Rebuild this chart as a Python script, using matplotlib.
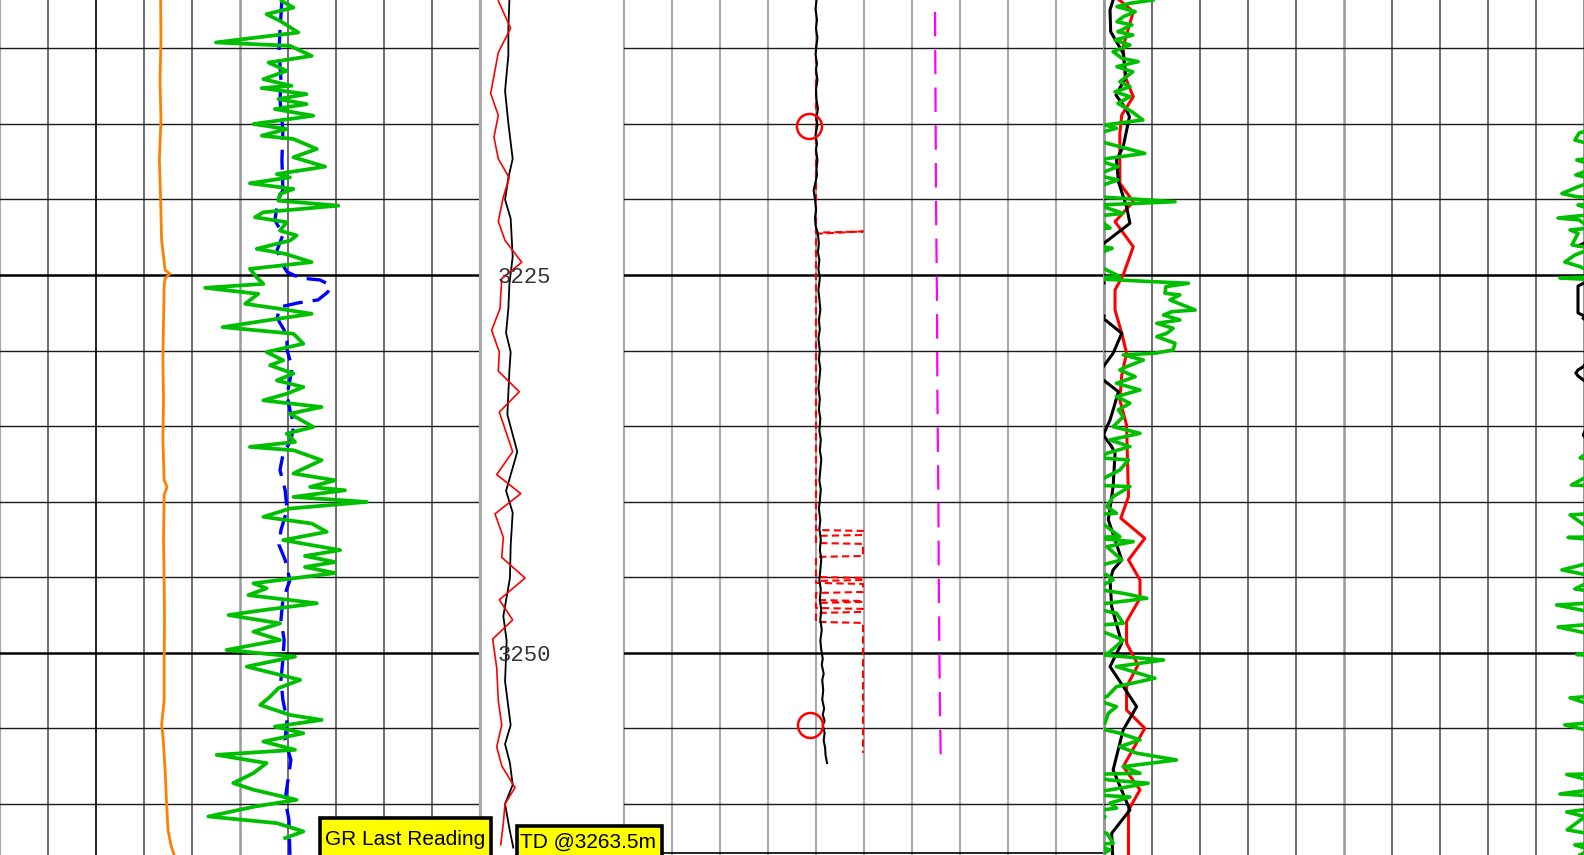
import numpy as np
import matplotlib.pyplot as plt
import matplotlib.transforms as mtransforms
from matplotlib.patches import Rectangle

W, H = 1584, 855
TOP, BOTTOM = 3206.8, 3263.39

# Track 1: gamma ray (API), calliper-like orange trace and blue dashed trace
gr_depth = [3206.86, 3207.30, 3207.74, 3208.18, 3208.95, 3209.61, 3209.83, 3210.50, 3210.94, 3211.49,
            3212.04, 3212.48, 3212.63, 3213.03, 3213.36, 3213.69, 3214.02, 3214.46, 3215.01, 3215.34,
            3215.78, 3216.00, 3216.66, 3217.21, 3217.83, 3218.32, 3218.54, 3218.93, 3219.31, 3219.64,
            3220.08, 3220.41, 3220.85, 3221.18, 3221.51, 3222.06, 3222.39, 3222.72, 3223.27, 3223.60,
            3224.15, 3224.60, 3225.15, 3225.59, 3225.85, 3226.25, 3226.91, 3227.24, 3227.57, 3228.01,
            3228.45, 3228.89, 3229.55, 3230.10, 3230.65, 3230.98, 3231.53, 3231.98, 3232.42, 3232.86,
            3233.30, 3233.74, 3234.18, 3235.06, 3235.50, 3236.05, 3236.38, 3236.60, 3237.26, 3237.92,
            3238.14, 3238.59, 3239.03, 3239.25, 3239.69, 3240.02, 3240.46, 3241.01, 3241.45, 3242.00,
            3242.55, 3243.21, 3243.60, 3244.00, 3244.33, 3244.73, 3245.41, 3245.74, 3246.19, 3246.73,
            3247.18, 3247.51, 3248.06, 3248.61, 3249.16, 3249.82, 3250.26, 3250.92, 3251.47, 3251.80,
            3252.35, 3252.91, 3253.46, 3254.12, 3254.45, 3254.89, 3255.33, 3255.88, 3256.43, 3256.76,
            3257.31, 3257.97, 3258.63, 3259.07, 3259.74, 3260.18, 3260.84, 3261.28, 3261.83, 3262.27]
gr_api = [88.0, 91.7, 83.3, 87.5, 93.2, 67.5, 90.6, 97.4, 83.9, 89.6,
          82.3, 91.1, 81.8, 95.8, 87.0, 95.8, 85.9, 97.9, 79.2, 89.6,
          81.8, 91.7, 99.0, 91.7, 101.6, 86.5, 90.6, 78.1, 91.7, 87.5,
          87.0, 105.7, 82.3, 79.7, 89.6, 87.5, 92.7, 90.6, 80.2, 89.1,
          97.4, 78.1, 80.2, 82.3, 64.1, 80.7, 76.6, 87.5, 97.4, 83.3,
          69.6, 91.7, 94.8, 83.3, 88.5, 84.4, 91.7, 86.5, 94.8, 89.6,
          82.3, 100.5, 90.6, 97.9, 89.6, 92.2, 78.1, 91.7, 100.5, 93.8,
          91.7, 104.7, 96.9, 107.8, 91.7, 114.6, 90.6, 82.3, 97.4, 102.1,
          88.5, 106.3, 95.3, 104.7, 95.3, 104.7, 79.2, 83.3, 77.6, 99.0,
          82.3, 71.4, 87.5, 79.2, 87.5, 70.8, 92.2, 77.1, 87.5, 93.8,
          87.0, 84.4, 81.3, 90.6, 100.5, 85.9, 94.8, 82.3, 92.2, 67.7,
          83.3, 79.2, 72.9, 79.2, 92.7, 79.7, 65.1, 86.5, 94.8, 89.1]

orange_depth = [3206.80, 3209.45, 3212.09, 3214.74, 3217.39, 3220.04, 3222.68, 3224.67, 3224.93, 3225.20,
                3225.66, 3227.98, 3230.63, 3233.27, 3235.92, 3238.57, 3239.03, 3239.56, 3242.54, 3245.19,
                3247.83, 3250.48, 3253.13, 3254.78, 3255.44, 3257.76, 3259.74, 3261.73, 3262.72, 3263.38]
orange_val = [50.2, 50.3, 50.0, 50.3, 49.8, 50.2, 50.5, 51.6, 53.1, 51.6,
              51.3, 51.1, 50.9, 51.1, 50.9, 51.3, 52.2, 51.3, 51.1, 51.3,
              51.4, 51.3, 51.3, 50.5, 50.9, 51.6, 52.0, 52.5, 53.4, 54.4]

blue_depth = [3206.80, 3208.79, 3210.11, 3212.09, 3213.42, 3215.40, 3217.39, 3219.37, 3220.04, 3221.36,
              3222.35, 3223.35, 3224.14, 3224.80, 3225.20, 3225.33, 3225.66, 3226.12, 3226.65, 3226.85,
              3227.12, 3227.85, 3228.97, 3229.96, 3231.15, 3231.95, 3232.94, 3233.93, 3234.93, 3235.92,
              3236.91, 3237.91, 3239.23, 3240.55, 3241.88, 3242.87, 3243.86, 3245.19, 3246.51, 3247.83,
              3249.16, 3250.48, 3251.80, 3253.13, 3254.45, 3255.77, 3257.10, 3258.42, 3259.74, 3261.07,
              3263.38]
blue_val = [88.1, 87.5, 87.2, 87.8, 87.5, 88.4, 88.1, 88.4, 86.9, 85.9,
            88.4, 86.6, 87.8, 89.7, 93.8, 100.0, 103.1, 102.5, 99.4, 93.1,
            87.5, 86.6, 89.7, 89.7, 91.3, 90.6, 89.7, 90.6, 91.9, 90.9,
            88.4, 87.5, 89.1, 89.7, 87.8, 87.2, 89.1, 90.6, 88.4, 87.8,
            88.8, 88.4, 87.8, 88.4, 89.7, 89.1, 90.9, 90.0, 89.1, 90.3,
            90.6]

# Depth track curves
dred_depth = [3206.86, 3208.66, 3210.28, 3212.99, 3214.43, 3215.87, 3217.31, 3218.57, 3219.83, 3221.45,
              3222.72, 3224.16, 3225.24, 3227.22, 3228.66, 3230.10, 3231.36, 3232.73, 3234.07, 3236.70,
              3238.21, 3239.47, 3240.81, 3242.36, 3243.69, 3245.06, 3246.50, 3247.83, 3249.10, 3251.00,
              3253.17, 3254.79, 3256.23, 3257.49, 3258.93, 3260.01, 3261.27, 3262.72]
dred_val = [12.7, 21.3, 12.7, 7.4, 12.7, 9.7, 12.7, 20.3, 16.2, 12.7,
            17.4, 29.0, 15.1, 13.9, 8.1, 13.4, 12.7, 27.3, 13.4, 22.7,
            11.6, 28.3, 10.4, 16.2, 15.1, 31.3, 13.4, 22.7, 8.8, 11.6,
            12.7, 15.1, 11.6, 15.1, 24.3, 17.4, 16.2, 14.4]
dblk_depth = [3206.86, 3208.66, 3210.46, 3212.81, 3214.97, 3217.31, 3218.57, 3220.01, 3221.27, 3223.80,
              3225.60, 3227.22, 3228.84, 3230.10, 3231.36, 3234.25, 3236.70, 3239.29, 3240.73, 3242.90,
              3245.06, 3247.58, 3249.20, 3251.90, 3254.79, 3256.05, 3257.31, 3258.75, 3260.01, 3261.63,
              3262.90]
dblk_val = [20.4, 19.7, 19.7, 17.4, 19.7, 22.7, 19.7, 17.4, 21.3, 22.7,
            20.4, 19.7, 18.1, 21.3, 20.4, 19.0, 25.9, 18.1, 22.7, 21.3,
            20.8, 16.2, 18.5, 17.4, 21.3, 17.4, 20.8, 22.7, 17.4, 20.4,
            23.1]
depth_labels = [3225, 3250]

# Track 2
bk2_depth = [3206.8, 3207.4, 3208.1, 3208.7, 3209.3, 3209.8, 3210.4, 3211.0, 3211.4, 3212.1,
             3212.7, 3213.4, 3214.0, 3214.6, 3215.1, 3215.7, 3216.3, 3216.7, 3217.4, 3218.0,
             3218.4, 3219.0, 3219.4, 3219.6, 3220.0, 3220.7, 3221.2, 3221.7, 3222.3, 3222.9,
             3223.5, 3224.0, 3224.6, 3225.2, 3226.0, 3226.6, 3227.3, 3228.0, 3228.6, 3229.2,
             3230.0, 3230.6, 3231.2, 3231.9, 3232.5, 3233.2, 3233.9, 3234.5, 3235.3, 3235.9,
             3236.6, 3237.2, 3237.9, 3238.6, 3239.2, 3239.9, 3240.5, 3241.2, 3241.8, 3242.5,
             3243.2, 3243.8, 3244.5, 3245.2, 3245.8, 3246.5, 3247.2, 3247.8, 3248.5, 3249.2,
             3249.8, 3250.4, 3250.8, 3251.4, 3251.8, 3252.5, 3253.1, 3253.7, 3254.1, 3254.5,
             3254.8, 3255.3, 3255.8, 3256.3, 3256.8, 3257.3]
bk2_val = [40.1, 39.9, 40.2, 40.0, 40.3, 40.1, 39.9, 40.2, 40.0, 40.3,
           40.0, 40.1, 40.4, 40.1, 40.3, 39.9, 40.2, 40.0, 40.3, 40.1,
           40.2, 39.8, 39.5, 39.6, 39.8, 40.0, 39.8, 39.9, 40.4, 40.6,
           40.4, 40.7, 40.5, 40.8, 40.5, 40.7, 40.9, 40.6, 40.8, 40.5,
           40.8, 40.6, 40.9, 40.7, 40.5, 40.8, 40.6, 40.9, 40.7, 41.0,
           40.8, 41.1, 40.9, 40.7, 41.0, 40.8, 40.6, 40.9, 40.7, 41.0,
           40.8, 41.1, 40.9, 40.7, 41.0, 40.8, 41.1, 40.9, 41.2, 40.9,
           41.1, 41.4, 41.2, 41.6, 41.3, 41.5, 41.3, 41.7, 41.4, 41.8,
           41.4, 41.8, 41.6, 41.9, 42.0, 42.3]

rd2_depth = [3209.78, 3222.20, 3222.12, 3222.27, 3241.88, 3241.94, 3242.21, 3242.27, 3242.74, 3242.80,
             3243.60, 3243.66, 3244.99, 3245.05, 3245.19, 3245.25, 3245.38, 3245.45, 3245.98, 3246.05,
             3246.51, 3246.58, 3246.64, 3246.71, 3247.04, 3247.10, 3247.30, 3247.37, 3247.96, 3248.03,
             3256.63]
rd2_val = [40.0, 40.0, 49.8, 40.0, 40.0, 49.8, 49.8, 40.0, 40.0, 49.8,
           49.8, 40.0, 40.0, 49.8, 49.8, 40.0, 40.0, 49.8, 49.8, 40.0,
           40.0, 49.8, 49.8, 40.0, 40.0, 49.8, 49.8, 40.0, 40.0, 49.8,
           49.8]

mag_depth = [3207.59, 3213.42, 3220.04, 3226.65, 3233.27, 3239.89, 3246.51, 3253.13, 3257.23]
mag_val = [64.8, 64.9, 65.0, 65.2, 65.3, 65.5, 65.6, 65.8, 66.0]

sample_depth = [3215.14, 3254.78]
sample_val = [38.5, 38.7]

# Track 3 (wrapped scale 0-100)
r3_depth = [3206.80, 3207.57, 3209.89, 3211.88, 3213.20, 3214.41, 3215.62, 3218.93, 3220.15, 3221.47,
            3223.13, 3225.00, 3225.99, 3227.32, 3228.86, 3230.18, 3231.62, 3233.27, 3234.93, 3239.67,
            3241.10, 3242.43, 3243.86, 3245.19, 3246.40, 3247.94, 3249.37, 3250.81, 3252.25, 3253.79,
            3255.00, 3257.54, 3259.08, 3260.41, 3263.38]
r3_val = [3.2, 6.1, 4.0, 4.4, 6.1, 3.7, 3.3, 3.3, 6.1, 2.3,
          6.1, 4.0, 2.3, 2.3, 3.7, 4.7, 3.7, 3.3, 4.7, 5.1,
          3.5, 8.5, 5.1, 7.5, 7.5, 4.7, 4.7, 7.1, 4.7, 4.7,
          8.5, 4.0, 7.5, 5.1, 5.1]

bk3_depth = [3206.80, 3207.46, 3208.90, 3209.56, 3210.33, 3211.88, 3213.09, 3214.08, 3214.52, 3216.51,
             3217.39, 3218.83, 3220.48, 3221.58, 3222.90, 3223.08, 3224.00, 3225.53, 3225.73, 3227.51,
             3227.71, 3227.80, 3227.87, 3228.86, 3230.18, 3231.07, 3231.29, 3231.49, 3231.68, 3231.95,
             3232.72, 3233.93, 3234.60, 3235.59, 3236.36, 3236.80, 3239.01, 3241.21, 3243.86, 3244.52,
             3245.19, 3246.95, 3249.37, 3250.92, 3253.57, 3255.11, 3257.76, 3260.41, 3261.95, 3263.38]
bk3_val = [1.9, 1.25, 1.4, 2.6, 4.0, 4.6, 2.5, 4.7, 5.3, 4.0,
           2.6, 3.0, 4.7, 5.4, 0.0, -1.25, np.nan, 0.0, -1.25, -1.25,
           0.0, np.nan, -0.15, 3.7, 1.9, -0.15, -1.25, -1.7, -1.25, -0.15,
           3.0, 1.9, 1.25, -0.15, 1.6, 2.3, 1.9, 0.9, 3.7, 1.9,
           1.25, 1.6, 3.7, 1.25, 6.8, 4.0, 1.9, 5.4, 1.6, 1.8]

g3_depth = [3206.80, 3207.02, 3207.24, 3207.57, 3207.91, 3208.24, 3208.45, 3208.90, 3209.12, 3209.45,
            3209.78, 3210.22, 3210.66, 3210.88, 3211.21, 3211.55, 3212.21, 3212.54, 3212.87, 3213.20,
            3213.64, 3214.19, 3214.74, 3215.07, 3215.29, 3215.60, 3216.07, 3216.51, 3216.95, 3217.39,
            3217.83, 3218.38, 3218.71, 3219.16, 3219.61, 3219.82, 3220.15, 3220.37, 3220.92, 3221.23,
            3221.36, 3221.89, 3222.02, 3222.24, 3223.01, 3223.23, 3223.68, 3224.14, 3224.45, 3225.11,
            3225.20, 3225.44, 3225.55, 3225.77, 3226.21, 3226.32, 3226.65, 3227.32, 3227.43, 3227.65,
            3227.98, 3228.20, 3228.53, 3228.86, 3229.08, 3229.52, 3229.96, 3230.18, 3230.29, 3230.63,
            3231.07, 3231.29, 3231.73, 3232.17, 3232.61, 3233.05, 3233.49, 3233.93, 3234.38,
            3235.04, 3235.48, 3235.92, 3236.36, 3236.80, 3237.11, 3237.24, 3237.91, 3238.35, 3238.90,
            3239.01, 3239.67, 3240.33, 3240.77, 3240.88, 3241.66, 3242.32, 3242.37, 3242.65, 3242.98,
            3243.86, 3244.52, 3244.85, 3245.18, 3245.78, 3246.07, 3246.40, 3246.73, 3246.84, 3247.39,
            3248.05, 3248.30, 3248.71, 3249.16, 3250.04, 3250.12, 3250.48, 3250.92, 3251.69, 3252.25,
            3252.91, 3252.99, 3253.57, 3254.01, 3254.67, 3254.78, 3255.33, 3255.77, 3256.22, 3256.65,
            3257.10, 3257.54, 3257.98, 3258.06, 3258.42, 3258.64, 3259.08, 3259.35, 3259.55, 3259.96,
            3260.29, 3260.54, 3260.85, 3261.73, 3261.95, 3262.61, 3262.72, 3263.05, 3263.38]
g3_val = [10.2, 5.4, 2.7, 6.5, 4.0, 2.7, 5.8, 2.9, 6.0, 2.3,
          5.4, 1.9, 3.75, 7.1, 2.7, 6.0, 3.3, 5.4, 2.3, 5.4,
          2.9, 5.8, 8.1, 0.2, 2.6, -1.0, -1.9, 3.3, 8.5, -1.5,
          2.9, -1.7, 2.9, -1.25, -4.6, -1.5, 14.8, -1.25, 4.0, -5.4,
          -1.0, 1.25, -2.9, -1.25, -2.5, 1.7, -1.9, -4.0, -0.8, 3.3,
          -5.0, 10.0, 17.6, 12.9, 12.7, 15.8, 13.75, 19.0, 14.1, 12.4,
          15.8, 11.0, 14.4, 13.1, 11.0, 14.8, 14.4, 10.6, 4.0, 8.2,
          4.7, 3.3, 6.5, 2.6, 7.5, 2.6, 5.4, 3.0, 4.0,
          1.9, 7.5, 1.25, 5.4, 0.6, -0.8, 5.1, 3.3, 0.6, -2.6,
          5.4, 1.9, 0.6, 2.6, -2.9, 0.6, 3.3, -3.3, 6.1, 0.6,
          3.7, -4.6, 0.6, 1.9, -1.9, 4.0, 8.9, 0.6, -5.7, 2.6,
          4.0, -5.4, 0.6, 4.0, 0.9, -1.5, 12.4, 2.6, 10.6, 2.6,
          0.6, -2.9, 2.6, 0.9, 0.2, -4.0, 3.3, 7.5, 3.3, 6.8,
          15.1, 4.0, 7.5, -3.6, 0.9, 9.2, 1.25, -5.0, 5.4, 1.25,
          2.6, -3.6, 0.2, -3.5, 0.6, 1.9, -1.9, 1.25, -0.8]

grid_depths = list(range(3210, 3261, 5))
major_depths = [3225, 3250]

fig = plt.figure(figsize=(W / 100, H / 100), dpi=100)
fig.patch.set_facecolor('white')

ax1 = fig.add_axes([0, 0, 480 / W, 1])
axd = fig.add_axes([480 / W, 0, 144 / W, 1])
ax2 = fig.add_axes([624 / W, 0, 480 / W, 1])
ax3 = fig.add_axes([1104 / W, 0, 480 / W, 1])

ax1.set_xlim(0, 150)
axd.set_xlim(0, 100)
ax2.set_xlim(0, 100)
ax3.set_xlim(0, 100)

for ax in (ax1, axd, ax2, ax3):
    ax.set_ylim(BOTTOM, TOP)
    ax.set_xticks([])
    ax.set_yticks([])
    for s in ax.spines.values():
        s.set_visible(False)

light = ('#aaaaaa', 1.6)
dark = ('#555555', 1.2)
track1_lines = [light, dark, ('#000000', 1.2), dark, dark, ('#999999', 1.8),
                dark, dark, dark, dark, light]
track2_lines = [('#aaaaaa', 1.5)] * 11
track3_lines = [('#999999', 2.2), dark, dark, dark, dark, ('#999999', 1.8),
                dark, dark, dark, dark, ('#888888', 2.0)]

for ax, styles in ((ax1, track1_lines), (ax2, track2_lines), (ax3, track3_lines)):
    lo, hi = ax.get_xlim()
    for i, (c, lw) in enumerate(styles):
        ax.axvline(lo + (hi - lo) * i / 10, color=c, lw=lw, zorder=1, clip_on=False)
    for d in grid_depths:
        if d in major_depths:
            ax.axhline(d, color='black', lw=1.8, zorder=1.2)
        else:
            ax.axhline(d, color='#1a1a1a', lw=1.0, zorder=1.1)

for x in (0, 100):
    axd.axvline(x, color='#aaaaaa', lw=2.2, zorder=1, clip_on=False)

# Track 1 curves
ax1.plot(orange_val, orange_depth, color='#ff8000', lw=2.0, zorder=3)
ax1.plot(blue_val, blue_depth, color='#0000ff', lw=2.4, ls=(0, (6, 3)), zorder=3)
ax1.plot(gr_api, gr_depth, color='#00bf00', lw=2.7, zorder=4)

# Depth track
axd.plot(dblk_val, dblk_depth, color='black', lw=1.3, zorder=3)
axd.plot(dred_val, dred_depth, color='#ff0000', lw=1.2, zorder=3)
lab_tr = mtransforms.blended_transform_factory(axd.transAxes, axd.transData)
for d in depth_labels:
    axd.text(0.307, d, str(d), transform=lab_tr, ha='center', va='center_baseline',
             family='Liberation Mono', fontsize=16, color='#333333', zorder=5)

# Track 2
ax2.plot(rd2_val, rd2_depth, color='#ff0000', lw=1.5, ls=(0, (3.5, 2)), zorder=3)
ax2.plot(bk2_val, bk2_depth, color='black', lw=1.5, zorder=4)
ax2.plot(mag_val, mag_depth, color='#ff00ff', lw=1.6, ls=(0, (11, 6)), zorder=3)
ax2.plot(sample_val, sample_depth, 'o', mfc='none', mec='#ff0000', mew=1.8, ms=18, zorder=5)
ax2.axhline(3263.25, color='black', lw=1.2, zorder=2)

# Track 3, curves wrap around onto the right-hand side when they fall below zero
for shift in (0, 100):
    ax3.plot(np.array(r3_val) + shift, r3_depth, color='#ff0000', lw=2.2, zorder=3)
    ax3.plot(np.array(bk3_val) + shift, bk3_depth, color='black', lw=2.2, zorder=3)
    ax3.plot(np.array(g3_val) + shift, g3_depth, color='#00bf00', lw=2.6, zorder=4)

# Bottom annotation boxes
fig.add_artist(Rectangle((320 / W, -10 / H), 171 / W, 47 / H, transform=fig.transFigure,
                         fc='#ffff00', ec='black', lw=2.6, zorder=10))
fig.text(325 / W, (H - 845) / H, 'GR Last Reading', family='Liberation Sans',
         fontsize=15, color='black', va='baseline', ha='left', zorder=11)
fig.add_artist(Rectangle((516.7 / W, -10 / H), 145 / W, 39 / H, transform=fig.transFigure,
                         fc='#ffff00', ec='black', lw=2.6, zorder=10))
fig.text(520 / W, (H - 848) / H, 'TD @3263.5m', family='Liberation Sans',
         fontsize=15, color='black', va='baseline', ha='left', zorder=11)

fig.savefig('out.png', dpi=100)
